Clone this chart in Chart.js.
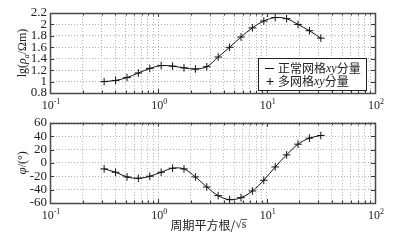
<!DOCTYPE html>
<html><head><meta charset="utf-8">
<script src="https://cdn.jsdelivr.net/npm/chart.js@4.4.1/dist/chart.umd.min.js"></script>
<style>
html,body{margin:0;padding:0;background:#fff;}
#wrap{position:relative;width:395px;height:244px;overflow:hidden;background:#fff;}
canvas{position:absolute;left:0;}
#c1{top:0;} #c2{top:112px;}
</style></head><body>
<div id="wrap"><canvas id="c1" width="395" height="112"></canvas><canvas id="c2" width="395" height="132"></canvas></div>
<script>
// ---- data ----
const periods = [0.316,0.403,0.514,0.654,0.834,1.062,1.354,1.725,2.198,2.801,3.569,4.547,5.794,7.384,9.408,11.99,15.28,19.47,24.81,31.62];
const rhoNormal = [1.00,1.02,1.07,1.15,1.23,1.28,1.27,1.24,1.22,1.26,1.43,1.60,1.78,1.94,2.06,2.12,2.10,2.00,1.89,1.76];
const rhoMulti  = [1.00,1.02,1.07,1.15,1.23,1.28,1.27,1.24,1.22,1.26,1.43,1.60,1.78,1.94,2.06,2.12,2.10,2.00,1.89,1.76];
const phaseNormal = [-9,-14,-21,-23,-20,-14,-8,-9,-21,-36,-49,-55,-52,-42,-26,-6,12,28,37,41];
const phaseMulti  = [-9,-14,-21,-23,-20,-14,-8,-9,-21,-36,-49,-55,-52,-42,-26,-6,12,28,37,41];
const xMajorTicks = [0.1,1,10,100];
const xMajorExps = ['-1','0','1','2'];
const rhoTicks = [0.8,1,1.2,1.4,1.6,1.8,2,2.2];
const phaseTicks = [-60,-40,-20,0,20,40,60];
const seriesNames = ['正常网格xy分量','多网格xy分量'];
const xTitleText = '周期平方根/';

// minor log ticks for grid
const xAllTicks = [];
for (let i=0;i<xMajorTicks.length;i++){
  const b = xMajorTicks[i];
  xAllTicks.push(b);
  if (i < xMajorTicks.length-1) for (let m=2;m<=9;m++) xAllTicks.push(b*m);
}

const serif = "'Liberation Serif','Times New Roman',serif";
const cjk = "'Noto Sans CJK SC','Noto Sans CJK JP',sans-serif";

function richWidth(ctx, parts){let w=0;for(const p of parts){ctx.font=p.font;w+=ctx.measureText(p.t).width;}return w;}
function drawRich(ctx, parts, x, y, align){
  const w = richWidth(ctx, parts);
  let cx = align==='center' ? x-w/2 : x;
  for(const p of parts){ctx.font=p.font;ctx.fillText(p.t,cx,y+(p.dy||0));cx+=ctx.measureText(p.t).width;}
}
function line(ctx,x1,y1,x2,y2){ctx.beginPath();ctx.moveTo(x1,y1);ctx.lineTo(x2,y2);ctx.stroke();}
function nameParts(name){
  return name.split(/(xy)/).filter(s=>s.length).map(s=> s==='xy' ? {t:s,font:'italic 12px '+serif} : {t:s,font:'12px '+cjk});
}

const framePlugin = {
  id:'frame',
  afterDraw(chart, args, o){
    const ctx = chart.ctx, a = chart.chartArea, x = chart.scales.x, y = chart.scales.y;
    ctx.save();
    ctx.strokeStyle = '#333'; ctx.lineWidth = 1;
    xAllTicks.forEach(v=>{
      const px = Math.round(x.getPixelForValue(v))+0.5;
      const L = xMajorTicks.includes(v) ? 4 : 2.5;
      line(ctx,px,a.top,px,a.top+L); line(ctx,px,a.bottom,px,a.bottom-L);
    });
    o.yTicks.forEach(v=>{
      const py = Math.round(y.getPixelForValue(v))+0.5;
      line(ctx,a.left,py,a.left+4,py); line(ctx,a.right,py,a.right-4,py);
    });
    ctx.strokeStyle = '#4a4a4a'; ctx.lineWidth = 1.5;
    ctx.strokeRect(Math.round(a.left)+0.5, Math.round(a.top)+0.5, Math.round(a.right-a.left), Math.round(a.bottom-a.top));
    // x tick labels 10^n
    ctx.fillStyle = '#222'; ctx.textBaseline = 'alphabetic';
    xMajorTicks.forEach((v,i)=>{
      const px = x.getPixelForValue(v);
      drawRich(ctx,[{t:'10',font:'12px '+serif},{t:xMajorExps[i],font:'8px '+serif,dy:-5}],px+1,a.bottom+16,'center');
    });
    // y title (rotated)
    ctx.save();
    ctx.translate(22,(a.top+a.bottom)/2);
    ctx.rotate(-Math.PI/2);
    drawRich(ctx,o.yTitle,0,4,'center');
    ctx.restore();
    // legend
    if (o.legend){
      const L = {x:258.5,y:58.5,w:108,h:32};
      ctx.fillStyle='#fff'; ctx.fillRect(L.x,L.y,L.w,L.h);
      ctx.strokeStyle='#222'; ctx.lineWidth=1; ctx.strokeRect(L.x,L.y,L.w,L.h);
      ctx.fillStyle='#222'; ctx.textBaseline='middle';
      ctx.strokeStyle='#111';
      line(ctx,265,68.5,274,68.5);
      drawRich(ctx,nameParts(seriesNames[0]),278,68.5,'left');
      line(ctx,270,78,270,85); line(ctx,266.5,81.5,273.5,81.5);
      drawRich(ctx,nameParts(seriesNames[1]),278,81.5,'left');
    }
    if (o.xTitle){
      ctx.fillStyle='#222'; ctx.textBaseline='middle';
      const parts=[{t:xTitleText,font:'12px '+cjk},{t:'√s',font:'12px '+serif}];
      const cx=(a.left+a.right)/2-4, cy=a.bottom+22;
      drawRich(ctx,parts,cx,cy,'center');
      // radical overline
      const w=richWidth(ctx,parts); ctx.font='12px '+serif;
      const sw=ctx.measureText('s').width;
      const sx=cx+w/2-sw;
      ctx.strokeStyle='#333'; ctx.lineWidth=0.8; line(ctx,sx,cy-5.5,sx+sw+0.5,cy-5.5);
    }
    ctx.restore();
  }
};

function makeChart(id, yTicks, normal, multi, padTop, xAxisH, frameOpts){
  return new Chart(document.getElementById(id),{
    type:'line',
    data:{datasets:[
      {data:periods.map((p,i)=>({x:p,y:normal[i]})),borderColor:'#111',borderWidth:1,pointRadius:0,tension:0.35,fill:false},
      {data:periods.map((p,i)=>({x:p,y:multi[i]})),showLine:false,pointStyle:'cross',pointRadius:3.8,pointBorderColor:'#111',pointBorderWidth:1,pointBackgroundColor:'#111'}
    ]},
    options:{
      responsive:false,animation:false,events:[],
      layout:{padding:{left:0,right:20,top:padTop,bottom:0}},
      plugins:{legend:{display:false},tooltip:{enabled:false},frame:frameOpts},
      scales:{
        x:{type:'logarithmic',min:0.1,max:100,
          afterBuildTicks:s=>{s.ticks=xAllTicks.map(v=>({value:v}));},
          afterFit:s=>{s.height=xAxisH;},
          ticks:{display:false,autoSkip:false},
          grid:{color:'#b4b4b4',lineWidth:1,drawTicks:false},
          border:{display:false,dash:[1,2]}},
        y:{type:'linear',min:yTicks[0],max:yTicks[yTicks.length-1],
          afterBuildTicks:s=>{s.ticks=yTicks.map(v=>({value:v}));},
          afterFit:s=>{s.width=50;},
          ticks:{autoSkip:false,padding:3,color:'#222',font:{family:serif,size:13},callback:v=>String(v)},
          grid:{color:'#b4b4b4',lineWidth:1,drawTicks:false},
          border:{display:false,dash:[1,2]}}
      }
    },
    plugins:[framePlugin]
  });
}

makeChart('c1',rhoTicks,rhoNormal,rhoMulti,13,19,{
  yTicks:rhoTicks,legend:true,xTitle:false,
  yTitle:[{t:'lg(',font:'12px '+serif},{t:'ρ',font:'italic 12px '+serif},{t:'a',font:'italic 8px '+serif,dy:3},{t:'/Ωm)',font:'12px '+serif}]
});
makeChart('c2',phaseTicks,phaseNormal,phaseMulti,7,41,{
  yTicks:phaseTicks,legend:false,xTitle:true,
  yTitle:[{t:'φ',font:'italic 13px '+serif},{t:'/(°)',font:'12px '+serif}]
});
</script></body></html>
